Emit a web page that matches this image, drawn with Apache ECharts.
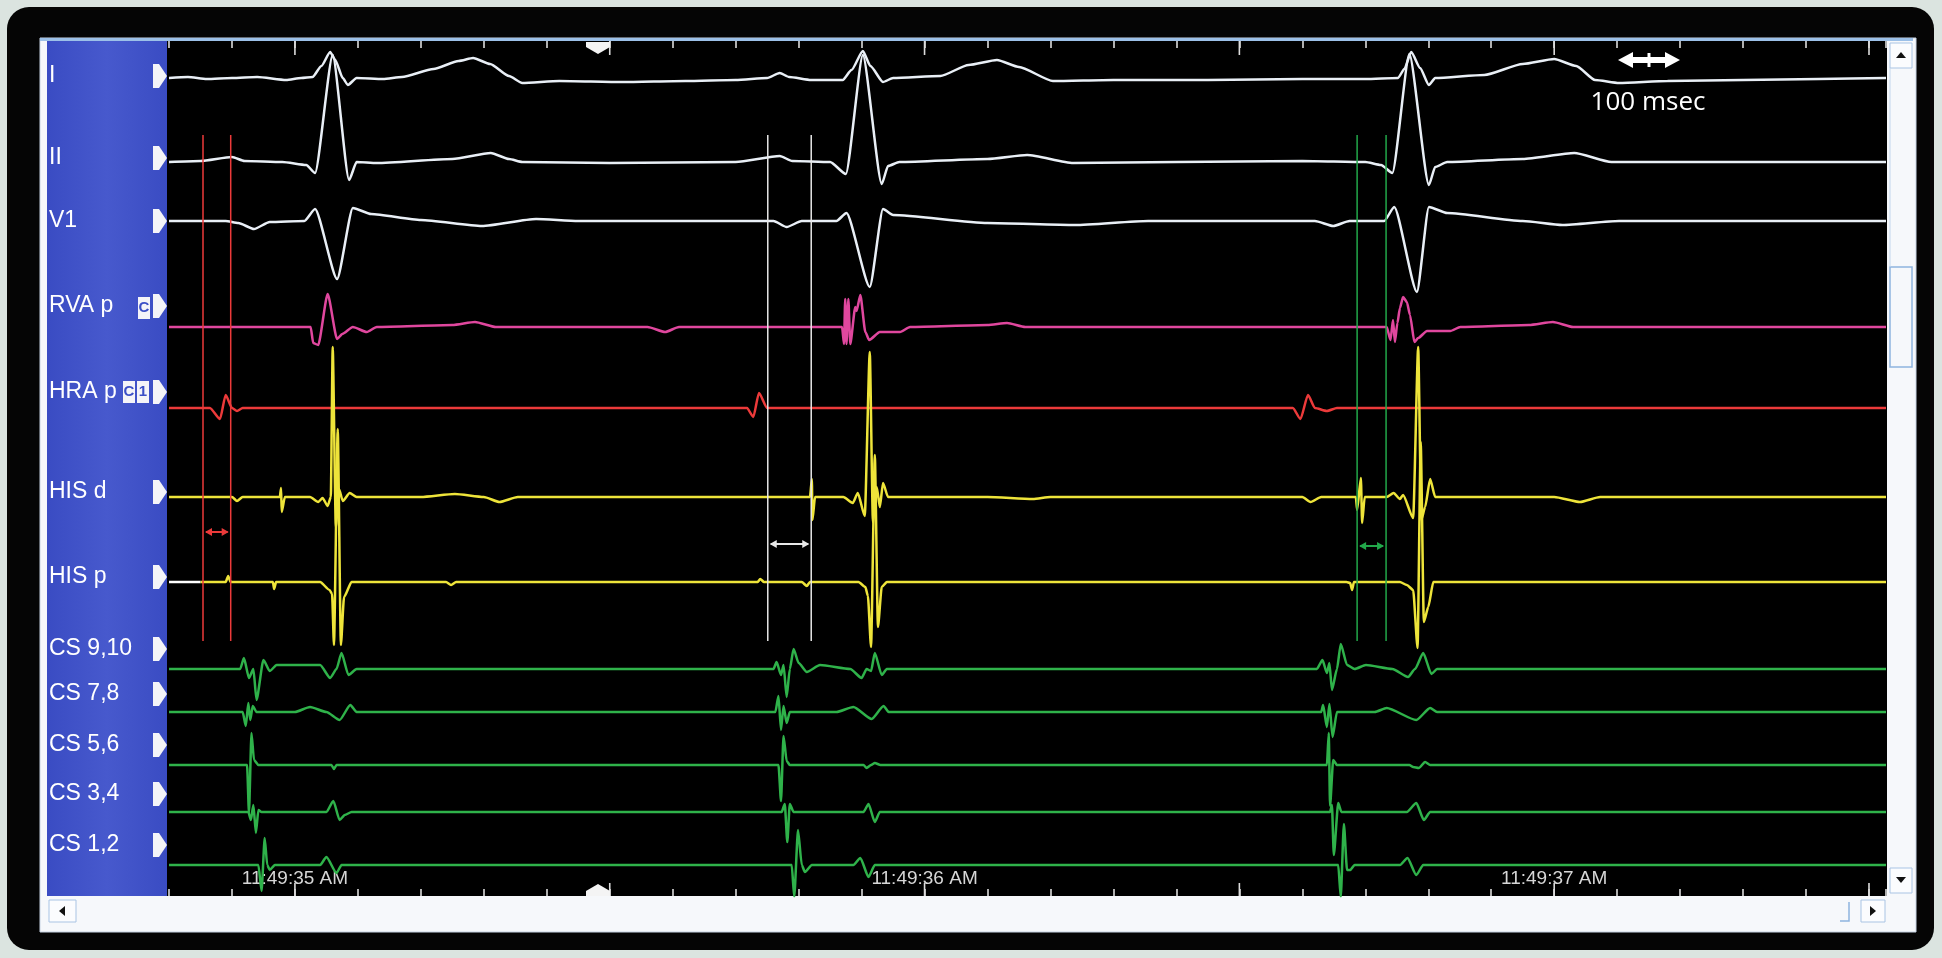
<!DOCTYPE html>
<html>
<head>
<meta charset="utf-8">
<title>EP recording</title>
<script src="https://cdn.jsdelivr.net/npm/echarts@6/dist/echarts.min.js"></script>
<style>
    html, body { margin: 0; padding: 0; background: #dbe4e0; }
    #chart { width: 1942px; height: 958px; }
</style>
</head>
<body>
<div id="chart"></div>
<script>
// channel names as shown in the blue panel
var channelNames = ['I', 'II', 'V1', 'RVA p', 'HRA p', 'HIS d', 'HIS p', 'CS 9,10', 'CS 7,8', 'CS 5,6', 'CS 3,4', 'CS 1,2'];

// time axis: ms after 11:49:35
var timeLabelAt = [0, 1000, 2000];
var timeLabels = ['11:49:35 AM', '11:49:36 AM', '11:49:37 AM'];
var longTicks = [0, 500, 1000, 1500, 2000, 2500];

// traces: [ms, deflection] (deflection up = positive)
var leadI = [[-200,0],[-170,1],[-140,-1],[-100,0],[-60,1],[-14,-2],[10,0],[28,1],[42,12],[56,26],[64,18],[76,0],[84,-7],[98,0],[140,-1],[170,1],[220,9],[260,17],[283,20],[310,14],[340,2],[361,-5],[420,-3],[520,-4],[620,-3],[700,-2],[750,0],[770,5],[785,1],[820,-2],[870,-2],[884,8],[902,27],[914,12],[934,-4],[950,0],[1025,2],[1070,13],[1115,18],[1150,11],[1204,-3],[1300,-2],[1450,-2],[1600,-1],[1700,-1],[1752,0],[1762,9],[1773,26],[1787,10],[1801,-7],[1811,0],[1889,3],[1950,14],[2000,19],[2035,12],[2065,-2],[2103,-5],[2180,-3],[2300,-2],[2420,-1],[2527,0]];
var leadII = [[-200,0],[-150,1],[-100,5],[-80,1],[-20,0],[18,-3],[32,-11],[60,107],[86,-18],[98,0],[130,-1],[250,3],[311,9],[340,3],[361,0],[500,-1],[700,0],[770,6],[790,1],[850,0],[875,-12],[902,107],[932,-22],[942,-4],[960,0],[1100,3],[1163,7],[1236,-1],[1400,0],[1600,1],[1700,0],[1725,-3],[1743,-11],[1770,108],[1801,-23],[1811,-5],[1830,0],[1950,3],[2032,9],[2091,0],[2300,0],[2527,0]];
var leadV1 = [[-200,0],[-110,0],[-90,-2],[-65,-8],[-40,-1],[15,0],[32,12],[67,-58],[92,13],[121,7],[200,1],[297,-5],[383,2],[450,0],[760,0],[781,-6],[805,0],[860,0],[876,8],[913,-66],[934,12],[950,6],[1100,-2],[1239,-4],[1355,0],[1620,0],[1649,-5],[1675,0],[1730,0],[1746,14],[1782,-71],[1801,14],[1830,8],[1950,0],[2013,-4],[2103,0],[2527,0]];
var rvaP = [[-200,0],[25,0],[29,-16],[37,-18],[52,33],[67,-12],[75,-7],[92,0],[114,-5],[130,0],[250,2],[286,5],[319,0],[560,0],[588,-5],[610,0],[869,0],[872,-17],[874,28],[876,-17],[879,28],[882,-17],[890,20],[892,16],[898,32],[906,-5],[912,-13],[929,-5],[961,-5],[977,0],[1100,2],[1131,4],[1160,0],[1734,0],[1740,-13],[1744,7],[1747,-15],[1751,4],[1755,19],[1760,30],[1766,25],[1771,12],[1778,-15],[1784,-11],[1798,-4],[1835,-4],[1851,0],[1960,2],[1998,5],[2030,0],[2527,0]];
var hraP = [[-200,0],[-135,0],[-119,-11],[-110,13],[-100,0],[-92,-3],[-83,0],[718,0],[728,-9],[737,15],[750,0],[1585,0],[1597,-11],[1609,13],[1620,0],[1639,-3],[1655,0],[2527,0]];
var hisD = [[-200,0],[-100,0],[-92,-4],[-83,0],[-24,0],[-22,9],[-21,-15],[-16,0],[24,0],[37,-5],[44,-1],[52,-9],[57,0],[60,150],[65,-30],[70,8],[76,-4],[87,4],[98,0],[200,0],[254,3],[300,0],[325,-5],[354,0],[750,0],[818,0],[821,18],[822,-23],[826,0],[871,0],[886,-6],[894,4],[905,-19],[913,145],[918,-25],[924,10],[929,-10],[934,14],[942,0],[1100,0],[1172,-2],[1200,0],[1600,0],[1613,-5],[1630,0],[1685,0],[1687,-13],[1693,19],[1695,-26],[1699,0],[1734,0],[1745,4],[1755,-2],[1760,2],[1776,-21],[1784,150],[1789,-23],[1795,-10],[1803,18],[1811,0],[2000,0],[2041,-5],[2073,0],[2527,0]];
var hisP = [[-150,0],[-110,0],[-106,6],[-102,0],[-35,0],[-33,-7],[-30,0],[40,0],[55,-8],[59,-12],[62,-63],[68,153],[73,-63],[78,-15],[90,0],[240,0],[248,-3],[256,0],[735,0],[739,3],[745,0],[805,0],[813,-4],[818,0],[895,0],[906,-5],[910,-14],[915,-65],[921,127],[926,-45],[932,-5],[940,0],[1670,0],[1676,-1],[1679,-8],[1682,0],[1755,0],[1766,-3],[1776,-8],[1783,-66],[1788,140],[1793,-40],[1800,-25],[1808,0],[2527,0]];
var hisPLead = [[-200,0],[-150,0]];
var cs910 = [[-200,0],[-87,0],[-81,11],[-73,-9],[-66,0],[-61,-31],[-50,9],[-40,-2],[-29,4],[40,4],[56,-9],[66,0],[74,16],[85,-6],[98,0],[760,0],[765,7],[772,-6],[776,4],[781,-28],[786,0],[792,20],[800,6],[813,-3],[834,4],[882,0],[900,-9],[908,0],[915,-2],[921,16],[932,-6],[940,0],[1623,0],[1632,9],[1639,-4],[1643,6],[1647,-21],[1655,0],[1661,25],[1671,4],[1683,0],[1701,4],[1743,0],[1768,-8],[1779,0],[1792,16],[1805,-5],[1814,0],[2527,0]];
var cs78 = [[-200,0],[-83,0],[-78,-14],[-74,9],[-71,-8],[-67,6],[-61,0],[0,0],[24,5],[50,0],[71,-8],[88,7],[98,0],[763,0],[768,16],[772,-18],[776,6],[781,-11],[786,0],[860,0],[887,5],[916,-7],[935,6],[943,0],[1630,0],[1633,7],[1639,-15],[1643,8],[1648,-25],[1655,0],[1715,0],[1734,4],[1781,-8],[1803,4],[1814,0],[2527,0]];
var cs56 = [[-200,0],[-76,0],[-73,-48],[-69,32],[-65,5],[-58,0],[58,0],[62,-4],[66,0],[768,0],[772,-36],[776,29],[781,4],[786,0],[903,0],[908,-3],[915,0],[921,2],[930,0],[1639,0],[1642,32],[1644,-41],[1649,5],[1655,0],[1770,0],[1776,-2],[1785,-3],[1795,3],[1803,0],[2527,0]];
var cs34 = [[-200,0],[-74,0],[-70,-8],[-66,7],[-62,-21],[-58,2],[-53,0],[50,0],[61,11],[71,-8],[79,-3],[90,0],[773,0],[778,8],[782,-30],[786,8],[792,0],[903,0],[911,8],[921,-10],[929,0],[1644,0],[1647,7],[1650,-43],[1657,9],[1662,0],[1766,0],[1781,9],[1793,-8],[1803,0],[2527,0]];
var cs12 = [[-200,0],[-58,0],[-53,-26],[-48,27],[-44,0],[-40,-5],[-32,0],[40,0],[50,8],[66,-8],[74,0],[789,0],[793,-32],[799,35],[805,0],[810,-7],[821,0],[887,0],[898,7],[911,-12],[921,0],[1657,0],[1661,-32],[1666,41],[1671,-5],[1676,-5],[1683,0],[1755,0],[1767,7],[1781,-10],[1792,0],[2527,0]];

// caliper pairs (ms)
var caliperRed = [-146, -102];
var caliperWhite = [751, 820];
var caliperGreen = [1687, 1733];

var traces = [leadI, leadII, leadV1, rvaP, hraP, hisD, hisP, cs910, cs78, cs56, cs34, cs12];

// layout (pixels)
var baselines = [78, 162, 221, 327, 408, 497, 582, 669, 712, 765, 812, 865];
var labelY = [76, 158, 221, 306, 392, 492, 577, 649, 694, 745, 794, 845];
var traceColors = ['#e9eff6', '#e9eff6', '#e9eff6', '#e0479e', '#ec3a3a', '#eee43a', '#eee43a',
    '#2fb24a', '#2fb24a', '#2fb24a', '#2fb24a', '#2fb24a'];
var plotTop = 41, plotBottom = 896;

var myChart = echarts.init(document.getElementById('chart'));

var series = traces.map(function (pts, i) {
    return {
        type: 'line',
        name: channelNames[i],
        showSymbol: false,
        animation: false,
        smooth: 0.2,
        smoothMonotone: 'x',
        z: 3,
        lineStyle: {color: traceColors[i], width: 2.5},
        data: pts.map(function (p) { return [p[0], baselines[i] - p[1]]; })
    };
});
series.push({
    type: 'line', showSymbol: false, animation: false, z: 3,
    lineStyle: {color: '#ffffff', width: 2.6},
    data: hisPLead.map(function (p) { return [p[0], baselines[6] - p[1]]; })
});

// 500 ms ticks, longer than the 100 ms ones
series.push({
    type: 'custom',
    animation: false,
    z: 4,
    data: longTicks.map(function (t) { return [t, plotTop]; }),
    renderItem: function (params, api) {
        var top = api.coord([api.value(0), plotTop]);
        var bot = api.coord([api.value(0), plotBottom]);
        var st = {stroke: '#dcdcdc', lineWidth: 1.6};
        return {
            type: 'group',
            children: [
                {type: 'line', shape: {x1: top[0], y1: top[1], x2: top[0], y2: top[1] + 14}, style: st},
                {type: 'line', shape: {x1: bot[0], y1: bot[1], x2: bot[0], y2: bot[1] - 13}, style: st}
            ]
        };
    }
});

function caliper(pair, color, arrowY) {
    return {
        type: 'custom',
        animation: false,
        z: 5,
        data: [[pair[0], pair[1]]],
        renderItem: function (params, api) {
            var a = api.coord([api.value(0), 135]);
            var b = api.coord([api.value(1), 641]);
            var y = api.coord([api.value(0), arrowY])[1];
            var x1 = a[0], x2 = b[0];
            var st = {stroke: color, lineWidth: 1.5};
            return {
                type: 'group',
                children: [
                    {type: 'line', shape: {x1: x1, y1: a[1], x2: x1, y2: b[1]}, style: st},
                    {type: 'line', shape: {x1: x2, y1: a[1], x2: x2, y2: b[1]}, style: st},
                    {type: 'line', shape: {x1: x1 + 3, y1: y, x2: x2 - 3, y2: y}, style: {stroke: color, lineWidth: 2}},
                    {type: 'polygon', shape: {points: [[x1 + 2, y], [x1 + 9, y - 4], [x1 + 9, y + 4]]}, style: {fill: color}},
                    {type: 'polygon', shape: {points: [[x2 - 2, y], [x2 - 9, y - 4], [x2 - 9, y + 4]]}, style: {fill: color}}
                ]
            };
        }
    };
}
series.push(caliper(caliperRed, '#ec3a3a', 532));
series.push(caliper(caliperWhite, '#e8e8e8', 544));
series.push(caliper(caliperGreen, '#22a84a', 546));

// left panel labels + tabs
var labelGraphics = [];
channelNames.forEach(function (name, i) {
    var c = labelY[i];
    labelGraphics.push({
        type: 'text', x: 49, y: c, z: 20,
        style: {text: name, fill: '#ffffff', fontSize: 23, fontFamily: 'Liberation Sans', verticalAlign: 'middle'}
    });
    labelGraphics.push({
        type: 'polygon', z: 20,
        shape: {points: [[153, c - 12], [159, c - 12], [167, c], [159, c + 12], [153, c + 12]]},
        style: {fill: '#f4f4f8'}
    });
});

function badge(x, y, txt) {
    return [
        {type: 'rect', z: 20, shape: {x: x, y: y, width: 12, height: 22}, style: {fill: '#f4f4f8'}},
        {type: 'text', x: x + 6, y: y + 11, z: 21,
            style: {text: txt, fill: '#3b4fc6', fontSize: 15, fontWeight: 'bold', fontFamily: 'Liberation Sans', align: 'center', verticalAlign: 'middle'}}
    ];
}
labelGraphics = labelGraphics.concat(badge(138, 297, 'C'), badge(123, 381, 'C'), badge(137, 381, '1'));

var frameGraphics = [
    {type: 'rect', z: -10, shape: {x: 7, y: 7, width: 1927, height: 943, r: 22}, style: {fill: '#050505'}},
    {type: 'rect', z: -9, shape: {x: 40, y: 38, width: 1876, height: 894}, style: {fill: '#f6f8fb', stroke: '#c7d3e3', lineWidth: 1}},
    {type: 'rect', z: -8, shape: {x: 47, y: 41, width: 120, height: 855},
        style: {fill: new echarts.graphic.LinearGradient(0, 0, 1, 0, [
            {offset: 0, color: '#3a4cc3'}, {offset: 0.5, color: '#4759cd'}, {offset: 1, color: '#3a4cc3'}])}},
    {type: 'rect', z: -8, shape: {x: 167, y: 41, width: 1720, height: 855}, style: {fill: '#000000'}},
    {type: 'rect', z: -7, shape: {x: 40, y: 38, width: 1873, height: 3}, style: {fill: '#9cc0e8'}},
    // right scrollbar
    {type: 'rect', z: 20, shape: {x: 1890, y: 43, width: 22, height: 25}, style: {fill: '#fbfcfe', stroke: '#a9c4e4', lineWidth: 1}},
    {type: 'polygon', z: 21, shape: {points: [[1896, 58], [1901, 52], [1906, 58]]}, style: {fill: '#111'}},
    {type: 'rect', z: 20, shape: {x: 1890, y: 267, width: 22, height: 100}, style: {fill: 'none', stroke: '#8fb4e0', lineWidth: 1.5}},
    {type: 'line', z: 20, shape: {x1: 1890, y1: 68, x2: 1890, y2: 267}, style: {stroke: '#c2d6ee', lineWidth: 1}},
    {type: 'rect', z: 20, shape: {x: 1890, y: 868, width: 22, height: 25}, style: {fill: '#fbfcfe', stroke: '#a9c4e4', lineWidth: 1}},
    {type: 'polygon', z: 21, shape: {points: [[1896, 877], [1906, 877], [1901, 883]]}, style: {fill: '#111'}},
    // bottom scrollbar
    {type: 'rect', z: 20, shape: {x: 49, y: 900, width: 27, height: 22}, style: {fill: '#fbfcfe', stroke: '#a9c4e4', lineWidth: 1}},
    {type: 'polygon', z: 21, shape: {points: [[59, 911], [65, 906], [65, 916]]}, style: {fill: '#111'}},
    {type: 'rect', z: 20, shape: {x: 1861, y: 900, width: 24, height: 22}, style: {fill: '#fbfcfe', stroke: '#a9c4e4', lineWidth: 1}},
    {type: 'polygon', z: 21, shape: {points: [[1870, 906], [1876, 911], [1870, 916]]}, style: {fill: '#111'}},
    {type: 'polyline', z: 20, shape: {points: [[1849, 902], [1849, 921], [1840, 921]]}, style: {stroke: '#8fb4e0', lineWidth: 1.5}},
    // position markers
    {type: 'polygon', z: 20, shape: {points: [[586, 42], [610, 42], [610, 47], [598, 54], [586, 47]]}, style: {fill: '#f4f4f4'}},
    {type: 'polygon', z: 20, shape: {points: [[586, 896], [610, 896], [610, 891], [598, 884], [586, 891]]}, style: {fill: '#f4f4f4'}},
    // 100 msec scale
    {type: 'polygon', z: 20, shape: {points: [[1618, 60], [1633, 52], [1633, 68]]}, style: {fill: '#ffffff'}},
    {type: 'polygon', z: 20, shape: {points: [[1680, 60], [1665, 52], [1665, 68]]}, style: {fill: '#ffffff'}},
    {type: 'rect', z: 20, shape: {x: 1630, y: 57, width: 38, height: 6}, style: {fill: '#ffffff'}},
    {type: 'rect', z: 20, shape: {x: 1647.5, y: 53, width: 3, height: 14}, style: {fill: '#ffffff'}},
    {type: 'text', x: 1648, y: 103, z: 20,
        style: {text: '100 msec', fill: '#ffffff', fontSize: 26, fontFamily: 'Open Sans', align: 'center', verticalAlign: 'middle'}}
];

function xAxisBase(pos) {
    return {
        type: 'value',
        position: pos,
        min: -200,
        max: 2527,
        interval: 100,
        splitLine: {show: false},
        axisLine: {show: false},
        axisTick: {show: true, inside: true, length: 7, lineStyle: {color: '#dcdcdc', width: 1.6}},
        axisLabel: {show: false}
    };
}
var bottomAxis = xAxisBase('bottom');
bottomAxis.axisLabel = {
    show: true,
    inside: true,
    margin: 8,
    color: '#d6d6d6',
    fontSize: 19,
    fontFamily: 'Liberation Sans',
    formatter: function (v) {
        var k = timeLabelAt.indexOf(Math.round(v));
        return k >= 0 ? timeLabels[k] : '';
    }
};

myChart.setOption({
    backgroundColor: '#dbe4e0',
    animation: false,
    grid: {left: 169, right: 56, top: plotTop, bottom: 958 - plotBottom},
    xAxis: [bottomAxis, xAxisBase('top')],
    yAxis: {type: 'value', min: plotTop, max: plotBottom, inverse: true, show: false},
    graphic: {elements: frameGraphics.concat(labelGraphics)},
    series: series
});
</script>
</body>
</html>
